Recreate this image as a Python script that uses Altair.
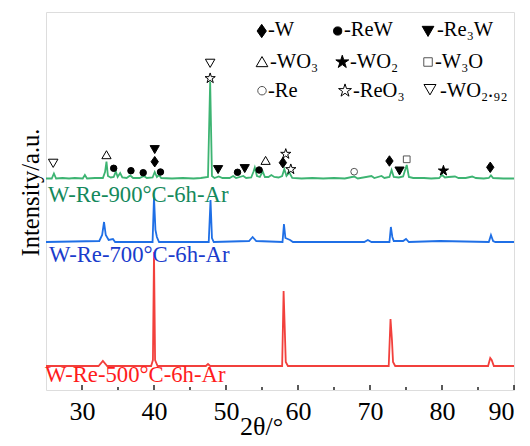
import altair as alt
import pandas as pd

# ---------------- data (2θ in degrees, intensity in arbitrary units) ----------------
series_names = ["W-Re-900°C-6h-Ar", "W-Re-700°C-6h-Ar", "W-Re-500°C-6h-Ar"]

g_2theta = [25.0, 25.8, 26.1, 26.4, 27.3, 28.2, 29.0, 30.1, 30.4, 30.7, 31.8, 32.9, 33.2, 33.4, 33.6,
            34.0, 34.4, 34.7, 34.95, 35.3, 35.6, 36.2, 36.7, 37.1, 38.0, 38.6, 39.0, 39.8, 40.1, 40.4,
            40.7, 41.0, 42.5, 44.0, 45.5, 46.5, 47.5, 47.8, 48.05, 48.4, 49.0, 49.5, 50.5, 51.0, 51.4,
            52.4, 52.8, 53.5, 53.8, 54.0, 54.3, 54.7, 55.1, 55.4, 55.9, 56.3, 56.7, 57.3, 57.8, 58.1,
            58.4, 58.8, 59.2, 60.5, 62.0, 63.5, 65.0, 66.5, 67.8, 68.3, 70.2, 70.6, 71.6, 72.0, 72.7,
            73.0, 73.3, 74.0, 74.6, 75.1, 75.4, 76.0, 77.5, 78.5, 79.6, 80.0, 80.4, 80.9, 81.8, 82.3,
            83.3, 84.2, 84.7, 85.8, 86.5, 86.8, 87.1, 88.5, 90.0]
g_int = [211.5, 211.5, 216.5, 211.5, 212, 211.5, 212, 211.5, 215, 211.5, 212, 212, 218, 228.5, 214,
         212.5, 213, 218.5, 213, 217, 212.5, 212, 214.5, 212, 212, 214, 212, 212.5, 218, 213,
         215, 212, 211.5, 212, 211.5, 212, 213, 308.5, 214, 212, 213.5, 212, 212, 214, 212,
         214, 212, 212.5, 218, 222.5, 214, 213, 218.5, 213, 213, 215, 213, 212.5, 214, 221,
         214, 217.5, 212, 211.5, 212, 211.5, 212, 211.5, 213.5, 211.5, 214, 212, 214, 212, 213,
         220, 213, 212.5, 213.5, 225, 213, 212, 212, 211.5, 212, 215, 212.5, 213, 213.5, 212,
         212, 213.5, 212, 211.5, 212, 214.5, 212, 211.5, 211.5]

b_2theta = [25.0, 32.4, 32.8, 33.06, 33.3, 33.7, 34.3, 34.6, 39.8, 40.0, 40.2, 40.4, 40.7, 47.6, 47.85,
            48.05, 48.3, 53.2, 53.7, 54.2, 57.85, 58.05, 58.25, 58.9, 59.3, 69.2, 69.7, 70.2, 72.7, 72.9,
            73.1, 73.3, 74.6, 75.0, 75.4, 79.7, 86.5, 86.8, 87.1, 87.4, 90.0]
b_int = [148, 149, 155, 168, 155, 150, 151, 148, 148, 193, 160, 153, 148, 148, 190,
         152, 148, 149, 153, 149, 148, 166, 152, 150, 148, 148, 150, 148, 148, 163,
         153, 149, 149, 151, 148, 149, 148, 155, 149, 148, 148]

r_2theta = [25.0, 32.3, 32.9, 33.5, 39.6, 39.85, 40.0, 40.15, 40.5, 47.2, 47.5, 47.8, 57.8, 58.0, 58.15,
            58.3, 58.6, 72.6, 72.85, 73.05, 73.2, 73.5, 86.4, 86.7, 86.9, 87.2, 90.0]
r_int = [24, 24, 29, 24, 24, 30, 138, 30, 24, 24, 26, 24, 24, 99, 64,
         28, 24, 24, 71, 50, 28, 24, 24, 32, 30, 24, 24]

# phase markers on the 900 °C pattern
marker_phase = ["WO2.92", "WO2.92", "WO3", "WO3",
                "ReW", "ReW", "ReW", "ReW", "ReW", "ReW",
                "Re3W", "Re3W", "Re3W", "Re3W",
                "W", "W", "W", "W",
                "ReO3", "ReO3", "ReO3",
                "Re", "W3O", "WO2"]
marker_2theta = [26.0, 47.8, 33.4, 55.5,
                 34.4, 36.8, 38.5, 40.9, 51.6, 54.6,
                 40.1, 48.9, 52.6, 74.1,
                 40.1, 57.9, 72.7, 86.7,
                 47.8, 58.3, 59.0,
                 67.8, 75.1, 80.2]
marker_int = [227, 327, 235, 229.3,
              221.7, 219.3, 217.3, 218, 217.7, 220,
              240.7, 220.7, 221.7, 219.3,
              228.3, 227.3, 229, 222.7,
              311.7, 236, 220.7,
              218.3, 230.7, 219.3]

# phase key
legend_phase = ["W", "ReW", "Re3W", "WO3", "WO2", "W3O", "Re", "ReO3", "WO2.92"]
legend_label = ["-W", "-ReW", "-Re₃W", "-WO₃", "-WO₂", "-W₃O", "-Re", "-ReO₃", "-WO₂.₉₂"]
legend_sym_x = [54.96, 65.51, 78.06, 55.0, 66.15, 78.06, 55.0, 66.53, 78.33]
legend_sym_y = [359, 359, 359, 328, 328, 328, 299.3, 299.3, 300.7]
legend_txt_x = [55.83, 66.39, 79.31, 56.11, 67.22, 79.03, 55.83, 67.64, 79.72]
legend_txt_y = [354, 354, 354, 322, 322, 322, 293.3, 293.3, 293.3]

sample_label_x = [25.28, 25.42, 24.86]
sample_label_y = [188, 128, 8]

major_ticks = [30, 40, 50, 60, 70, 80, 90]
minor_ticks = [35, 45, 55, 65, 75, 85]

# ---------------- styles ----------------
line_colors = ["#3db472", "#1f6fe6", "#f2403c"]
label_colors = ["#14895c", "#1a3ccc", "#ff1c1c"]

tri_down = "M-1,-0.8L1,-0.8L0,0.93Z"
tri_up = "M-1,0.8L1,0.8L0,-0.93Z"
diamond = "M0,-1L0.7,0L0,1L-0.7,0Z"
star = ("M0,-1L0.223,-0.307L0.951,-0.309L0.361,0.117L0.588,0.809L0,0.38L-0.588,0.809"
        "L-0.361,0.117L-0.951,-0.309L-0.223,-0.307Z")
phase_style = {
    #          shape      fill           stroke    size
    "W":      (diamond,  "black",       "black",  110),
    "ReW":    ("circle", "black",       "black",  42),
    "Re3W":   (tri_down, "black",       "black",  85),
    "WO3":    (tri_up,   "transparent", "black",  85),
    "WO2":    (star,     "black",       "black",  115),
    "W3O":    ("square", "transparent", "#555555", 45),
    "Re":     ("circle", "transparent", "#555555", 45),
    "ReO3":   (star,     "transparent", "black",  115),
    "WO2.92": (tri_down, "transparent", "black",  90),
}
legend_size_factor = 1.6
FONT = "Liberation Serif"

# ---------------- tables ----------------
rows = []
for name, xs, ys in zip(series_names, [g_2theta, b_2theta, r_2theta], [g_int, b_int, r_int]):
    for i, (a, b) in enumerate(zip(xs, ys)):
        rows.append({"series": name, "tt": a, "I": b, "i": i})
lines_df = pd.DataFrame(rows)

markers_df = pd.DataFrame({"phase": marker_phase, "tt": marker_2theta, "I": marker_int})
markers_df["sz"] = markers_df["phase"].map(lambda p: phase_style[p][3])

key_df = pd.DataFrame({"phase": legend_phase, "label": legend_label,
                       "tt": legend_sym_x, "I": legend_sym_y,
                       "tx": legend_txt_x, "ty": legend_txt_y})
key_df["sz"] = key_df["phase"].map(lambda p: phase_style[p][3] * legend_size_factor)

labels_df = pd.DataFrame({"series": series_names, "tx": sample_label_x, "ty": sample_label_y})
major_df = pd.DataFrame({"tt": major_ticks})
minor_df = pd.DataFrame({"tt": minor_ticks})

xscale = alt.Scale(domain=[25, 90], nice=False, zero=False)
yscale = alt.Scale(domain=[0, 378], nice=False, zero=False)
phases = list(phase_style.keys())
shape_scale = alt.Scale(domain=phases, range=[phase_style[p][0] for p in phases])
fill_scale = alt.Scale(domain=phases, range=[phase_style[p][1] for p in phases])
stroke_scale = alt.Scale(domain=phases, range=[phase_style[p][2] for p in phases])
line_color_scale = alt.Scale(domain=series_names, range=line_colors)
label_color_scale = alt.Scale(domain=series_names, range=label_colors)

x_axis = alt.Axis(values=major_ticks, title="2θ/°", ticks=False, tickSize=0, domain=False, grid=False,
                  labelFont=FONT, labelFontSize=26, labelColor="black", labelBaseline="alphabetic",
                  labelPadding=29, titleFont=FONT, titleFontSize=26, titleFontWeight="normal",
                  titleColor="black", titleX=215, titleY=44, titleBaseline="alphabetic",
                  titleAlign="center", format="d")
y_axis = alt.Axis(title="Intensity/a.u.", labels=False, ticks=False, tickSize=0, domain=False, grid=False,
                  titleFont=FONT, titleFontSize=24.5, titleFontWeight="normal", titleColor="black",
                  titleX=-15, titleY=180, titleAlign="center", titleBaseline="middle", titleAngle=270)


def X(field):
    return alt.X(field, type="quantitative", scale=xscale, axis=x_axis, title="2θ/°")


def Y(field):
    return alt.Y(field, type="quantitative", scale=yscale, axis=y_axis, title="Intensity/a.u.")


lines = alt.Chart(lines_df).mark_line(strokeWidth=1.8, clip=True).encode(
    x=X("tt"), y=Y("I"),
    color=alt.Color("series:N", scale=line_color_scale, legend=None),
    order="i:Q",
)

major = alt.Chart(major_df).mark_rule(color="black", strokeWidth=1.3).encode(
    x=X("tt"),
    y=alt.YDatum(0, axis=y_axis, title="Intensity/a.u."),
    y2=alt.Y2Datum(5),
)
minor = alt.Chart(minor_df).mark_rule(color="black", strokeWidth=1.3).encode(
    x=X("tt"),
    y=alt.YDatum(0, axis=y_axis, title="Intensity/a.u."),
    y2=alt.Y2Datum(3),
)

markers = alt.Chart(markers_df).mark_point(filled=True, strokeWidth=1, opacity=1).encode(
    x=X("tt"), y=Y("I"),
    shape=alt.Shape("phase:N", scale=shape_scale, legend=None),
    fill=alt.Fill("phase:N", scale=fill_scale, legend=None),
    stroke=alt.Stroke("phase:N", scale=stroke_scale, legend=None),
    size=alt.Size("sz:Q", scale=None, legend=None),
)

key_sym = alt.Chart(key_df).mark_point(filled=True, strokeWidth=1, opacity=1).encode(
    x=X("tt"), y=Y("I"),
    shape=alt.Shape("phase:N", scale=shape_scale, legend=None),
    fill=alt.Fill("phase:N", scale=fill_scale, legend=None),
    stroke=alt.Stroke("phase:N", scale=stroke_scale, legend=None),
    size=alt.Size("sz:Q", scale=None, legend=None),
)
key_txt = alt.Chart(key_df).mark_text(align="left", baseline="alphabetic", font=FONT,
                                      fontSize=20.5, color="black").encode(
    x=X("tx"), y=Y("ty"),
    text="label:N",
)

sample_txt = alt.Chart(labels_df).mark_text(align="left", baseline="alphabetic", font=FONT,
                                            fontSize=22.7).encode(
    x=X("tx"), y=Y("ty"),
    text="series:N",
    color=alt.Color("series:N", scale=label_color_scale, legend=None),
)

chart = alt.layer(lines, major, minor, markers, key_sym, key_txt, sample_txt).resolve_scale(
    color="independent"
).properties(
    width=468, height=378,
    autosize=alt.AutoSizeParams(type="none"),
    padding={"left": 38, "top": 4, "right": 8, "bottom": 50},
).configure_view(stroke="black", strokeWidth=1.5).configure(background="white")

chart.save("out.html", embed_options={"renderer": "svg", "actions": False})
